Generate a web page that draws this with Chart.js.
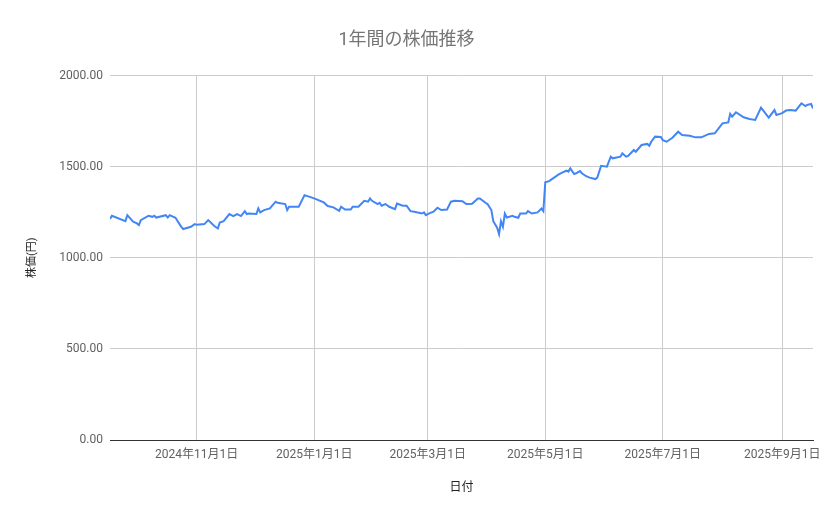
<!DOCTYPE html>
<html>
<head>
<meta charset="utf-8">
<script src="https://cdn.jsdelivr.net/npm/chart.js@4"></script>
<style>
  html, body { margin: 0; padding: 0; background: #fff; }
  #wrap { width: 839px; height: 519px; }
</style>
</head>
<body>
<div id="wrap"><canvas id="stockChart"></canvas></div>
<script>
// Dates and closing prices
var dates = [
  '2024-09-17','2024-09-18','2024-09-25','2024-09-26','2024-09-29','2024-10-01','2024-10-02','2024-10-03',
  '2024-10-07','2024-10-09','2024-10-10','2024-10-11','2024-10-16','2024-10-17','2024-10-18','2024-10-21',
  '2024-10-24','2024-10-25','2024-10-29','2024-10-31','2024-11-01','2024-11-05','2024-11-07','2024-11-10',
  '2024-11-12','2024-11-13','2024-11-15','2024-11-18','2024-11-20','2024-11-22','2024-11-24','2024-11-26',
  '2024-11-27','2024-11-28','2024-12-02','2024-12-03','2024-12-04','2024-12-06','2024-12-09','2024-12-12',
  '2024-12-13','2024-12-17','2024-12-18','2024-12-19','2024-12-24','2024-12-27','2025-01-01','2025-01-06',
  '2025-01-08','2025-01-11','2025-01-14','2025-01-15','2025-01-17','2025-01-20','2025-01-21','2025-01-24',
  '2025-01-27','2025-01-29','2025-01-30','2025-01-31','2025-02-03','2025-02-04','2025-02-05','2025-02-07',
  '2025-02-09','2025-02-12','2025-02-13','2025-02-16','2025-02-18','2025-02-20','2025-02-22','2025-02-26',
  '2025-02-27','2025-02-28','2025-03-02','2025-03-04','2025-03-06','2025-03-08','2025-03-11','2025-03-13',
  '2025-03-15','2025-03-19','2025-03-21','2025-03-24','2025-03-27','2025-03-28','2025-03-31','2025-04-01',
  '2025-04-03','2025-04-04','2025-04-06','2025-04-07','2025-04-08','2025-04-09','2025-04-10','2025-04-11',
  '2025-04-14','2025-04-15','2025-04-17','2025-04-18','2025-04-21','2025-04-22','2025-04-24','2025-04-27',
  '2025-04-29','2025-04-30','2025-05-01','2025-05-03','2025-05-05','2025-05-08','2025-05-10','2025-05-12',
  '2025-05-13','2025-05-14','2025-05-16','2025-05-17','2025-05-19','2025-05-20','2025-05-22','2025-05-24',
  '2025-05-27','2025-05-28','2025-05-30','2025-06-02','2025-06-04','2025-06-05','2025-06-09','2025-06-10',
  '2025-06-12','2025-06-13','2025-06-16','2025-06-17','2025-06-20','2025-06-23','2025-06-24','2025-06-25',
  '2025-06-27','2025-06-30','2025-07-01','2025-07-03','2025-07-06','2025-07-09','2025-07-11','2025-07-15',
  '2025-07-18','2025-07-21','2025-07-25','2025-07-28','2025-08-01','2025-08-04','2025-08-05','2025-08-06',
  '2025-08-08','2025-08-12','2025-08-15','2025-08-18','2025-08-21','2025-08-25','2025-08-28','2025-08-29',
  '2025-09-01','2025-09-03','2025-09-05','2025-09-08','2025-09-11','2025-09-13','2025-09-14','2025-09-16',
  '2025-09-17'
];

var prices = [
  1213, 1231, 1201, 1234, 1198, 1189, 1180, 1207,
  1231, 1225, 1231, 1221, 1234, 1221, 1234, 1220,
  1170, 1158, 1170, 1185, 1181, 1185, 1207, 1176,
  1161, 1194, 1201, 1240, 1229, 1240, 1229, 1256,
  1240, 1243, 1240, 1271, 1249, 1262, 1271, 1308,
  1302, 1295, 1262, 1280, 1280, 1344, 1326, 1304,
  1284, 1277, 1258, 1280, 1265, 1265, 1280, 1280,
  1313, 1308, 1326, 1313, 1295, 1302, 1286, 1295,
  1280, 1267, 1298, 1286, 1286, 1256, 1253, 1243,
  1249, 1234, 1245, 1253, 1275, 1262, 1265, 1308,
  1313, 1311, 1295, 1297, 1326, 1326, 1302, 1295,
  1262, 1201, 1165, 1130, 1201, 1170, 1243, 1221,
  1231, 1225, 1220, 1243, 1243, 1256, 1243, 1249,
  1270, 1256, 1415, 1421, 1436, 1458, 1469, 1478,
  1473, 1491, 1460, 1464, 1476, 1464, 1449, 1440,
  1432, 1440, 1505, 1500, 1555, 1546, 1555, 1573,
  1555, 1559, 1592, 1582, 1619, 1625, 1615, 1637,
  1665, 1663, 1646, 1637, 1659, 1692, 1674, 1670,
  1661, 1661, 1680, 1683, 1738, 1743, 1790, 1775,
  1799, 1771, 1762, 1757, 1824, 1769, 1811, 1784,
  1794, 1808, 1811, 1808, 1848, 1833, 1839, 1845,
  1820
];

// x axis tick positions and labels
var tickDates = ['2024-11-01', '2025-01-01', '2025-03-01', '2025-05-01', '2025-07-01', '2025-09-01'];
var tickLabels = ['2024年11月1日', '2025年1月1日', '2025年3月1日', '2025年5月1日', '2025年7月1日', '2025年9月1日'];

var yTicks = [0, 500, 1000, 1500, 2000];

// Convert an ISO date to a day number (no date adapter available)
function dayNum(s) {
  var p = s.split('-');
  return Math.round(Date.UTC(+p[0], +p[1] - 1, +p[2]) / 86400000);
}

var points = dates.map(function (d, i) {
  return { x: dayNum(d), y: prices[i] };
});
var tickDays = tickDates.map(dayNum);

var FONT = "Roboto, 'Noto Sans CJK JP', sans-serif";

var ctx = document.getElementById('stockChart').getContext('2d');
var chart = new Chart(ctx, {
  type: 'line',
  data: {
    datasets: [{
      label: '株価',
      data: points,
      borderColor: '#4285f4',
      borderWidth: 2,
      pointRadius: 0,
      tension: 0,
      fill: false
    }]
  },
  options: {
    responsive: true,
    maintainAspectRatio: false,
    animation: false,
    layout: {
      padding: { left: 0, right: 26, top: 0, bottom: 0 }
    },
    plugins: {
      legend: { display: false },
      tooltip: { enabled: false },
      title: {
        display: true,
        text: '1年間の株価推移',
        color: '#757575',
        font: { family: FONT, size: 18, weight: 'normal' },
        padding: { top: 30, bottom: 24 }
      }
    },
    scales: {
      x: {
        type: 'linear',
        min: dayNum(dates[0]),
        max: dayNum(dates[dates.length - 1]),
        afterBuildTicks: function (scale) {
          scale.ticks = tickDays.map(function (v) { return { value: v }; });
        },
        afterFit: function (scale) {
          scale.height = 79;
        },
        ticks: {
          autoSkip: false,
          maxRotation: 0,
          padding: 8,
          color: '#616161',
          font: { family: FONT, size: 12 },
          callback: function (value) {
            var i = tickDays.indexOf(value);
            return i >= 0 ? tickLabels[i] : '';
          }
        },
        grid: {
          color: '#cccccc',
          drawTicks: false
        },
        border: { display: true, color: '#333333', width: 1 },
        title: {
          display: true,
          text: '日付',
          color: '#222222',
          font: { family: FONT, size: 12 },
          padding: { top: 0, bottom: 24 }
        }
      },
      y: {
        min: 0,
        max: 2000,
        afterBuildTicks: function (scale) {
          scale.ticks = yTicks.map(function (v) { return { value: v }; });
        },
        afterFit: function (scale) {
          scale.width = 110;
        },
        ticks: {
          padding: 7,
          color: '#616161',
          font: { family: FONT, size: 12 },
          callback: function (value) { return value.toFixed(2); }
        },
        grid: {
          drawTicks: false,
          color: function (c) {
            return c.tick && c.tick.value === 0 ? '#333333' : '#cccccc';
          }
        },
        border: { display: false },
        title: {
          display: true,
          text: '株価(円)',
          color: '#222222',
          font: { family: FONT, size: 11 },
          padding: { top: 26, bottom: 0 }
        }
      }
    }
  }
});
</script>
</body>
</html>
